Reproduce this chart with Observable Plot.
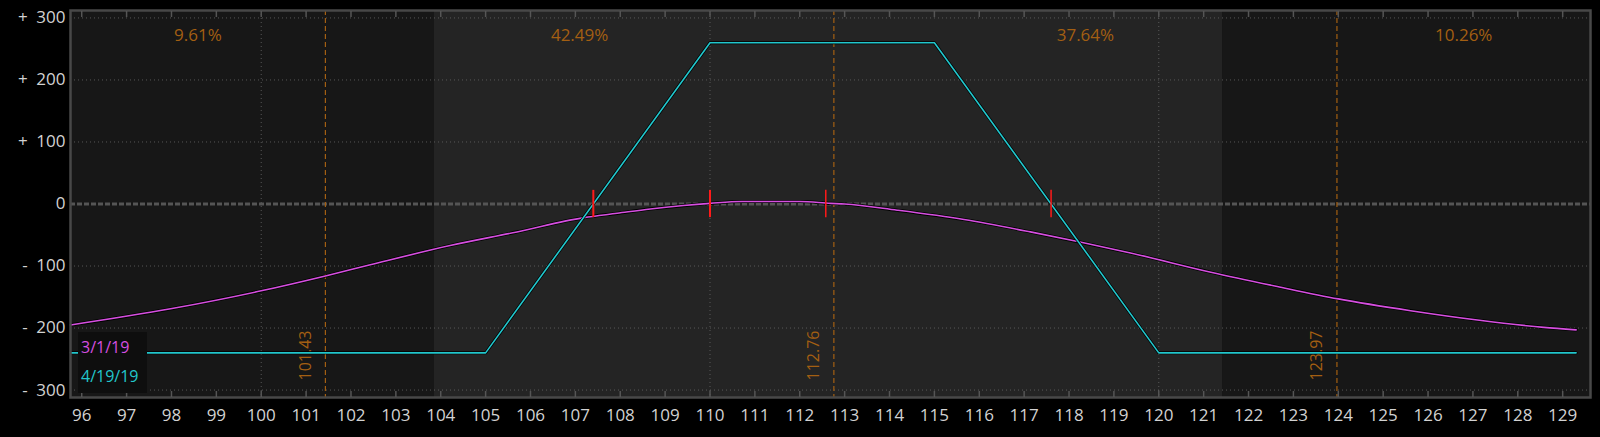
<!DOCTYPE html>
<html>
<head>
<meta charset="utf-8">
<script src="https://cdn.jsdelivr.net/npm/d3@7"></script>
<script src="https://cdn.jsdelivr.net/npm/@observablehq/plot@0.6"></script>
<style>
  html, body { margin: 0; padding: 0; background: #000; }
  #wrap { position: relative; width: 1600px; height: 437px; }
  #legend { position: absolute; left: 78px; top: 332px; width: 69px; height: 61px; background: #0e0e0e;
    font-family: "Open Sans", sans-serif; font-size: 16px; line-height: 29px; padding-left: 3px; box-sizing: border-box; padding-top: 1px; }
</style>
</head>
<body>
<div id="wrap"><div id="legend"></div></div>
<script>
// ---- data ----
const seriesNames = ["3/1/19", "4/19/19"];
const seriesColors = ["#d64fe0", "#22c6cc"];

// 3/1/19 theoretical P&L (price, value)
const nowPrice = [95.75, 97.98, 100.0, 101.43, 102.43, 104.21, 105.70, 107.19, 107.93, 108.67, 109.41, 110.0, 110.7, 112.0, 112.69, 113.0, 114.17, 115.66, 117.14, 118.22, 119.37, 121.16, 122.64, 124.0, 125.61, 127.10, 128.58, 129.30];
const nowPnl   = [-195, -169, -140, -116, -98, -67, -45, -22, -15, -8, -2.5, 1, 4, 4, 1, 0, -10, -25, -45, -61, -79, -110, -133, -153, -172, -187, -199, -203];

// 4/19/19 expiration P&L
const expPrice = [95.75, 105, 110, 115, 120, 129.30];
const expPnl   = [-240, -240, 260, 260, -240, -240];

// expected-move / probability lines and region percentages
const probLines = [101.43, 112.76, 123.97];
const probPercents = ["9.61%", "42.49%", "37.64%", "10.26%"];

// shaded one-sigma band
const bandEdges = [103.86, 121.42];

// red markers (break-evens, strikes of interest)
const markerPrices = [107.4, 110.0, 112.58, 117.6];
const markerHalf = 22;

const xDomain = [95.75, 129.62];
const yDomain = [-312, 312];
const xTicks = d3.range(96, 130);
const yTicks = [-300, -200, -100, 0, 100, 200, 300];

// ---- build ----
const nowData = nowPrice.map((p, i) => ({p, v: nowPnl[i]}));
const expData = expPrice.map((p, i) => ({p, v: expPnl[i]}));
const edges = [xDomain[0], ...probLines, xDomain[1]];
const pctData = probPercents.map((t, i) => ({t, x: (edges[i] + edges[i + 1]) / 2}));
const orange = "#a35f12";

const chart = Plot.plot({
  width: 1600,
  height: 437,
  marginLeft: 70,
  marginRight: 10,
  marginTop: 10,
  marginBottom: 40,
  style: {background: "#000", color: "#d2d2d2", fontFamily: "Open Sans, sans-serif", fontSize: "17px"},
  x: {domain: xDomain, label: null},
  y: {domain: yDomain, label: null},
  marks: [
    Plot.frame({fill: "#171717"}),
    Plot.rect([bandEdges], {x1: d => d[0], x2: d => d[1], fill: "#242424"}),
    Plot.gridY(yTicks.filter(d => d !== 0), {stroke: "#666", strokeOpacity: 0.8, strokeDasharray: "1,3"}),
    Plot.gridX([100, 110, 120], {stroke: "#666", strokeOpacity: 0.8, strokeDasharray: "1,3"}),
    Plot.ruleY([0], {stroke: "#555", strokeWidth: 3, strokeDasharray: "5,2"}),
    Plot.ruleX(probLines, {stroke: orange, strokeWidth: 1.2, strokeDasharray: "5,3"}),
    Plot.text(probLines, {x: d => d, text: d => d.toFixed(2), frameAnchor: "bottom", rotate: -90, textAnchor: "start", lineAnchor: "middle", dy: -17, dx: -20, fill: orange, fontSize: 16}),
    Plot.text(pctData, {x: "x", text: "t", frameAnchor: "top", dy: 25, lineAnchor: "middle", fill: orange, fontSize: 17}),
    Plot.line(nowData, {x: "p", y: "v", stroke: "#000", strokeWidth: 3.2, curve: "monotone-x"}),
    Plot.line(nowData, {x: "p", y: "v", stroke: seriesColors[0], strokeWidth: 1.6, curve: "monotone-x"}),
    Plot.line(expData, {x: "p", y: "v", stroke: "#000", strokeWidth: 3}),
    Plot.line(expData, {x: "p", y: "v", stroke: seriesColors[1], strokeWidth: 1.6}),
    Plot.ruleX(markerPrices, {y1: -markerHalf, y2: markerHalf, stroke: "#ff1a1a", strokeWidth: (d, i) => i < 2 ? 2 : 1.5}),
    Plot.frame({stroke: "#484848", strokeWidth: 2.5}),
    Plot.axisX(xTicks, {anchor: "top", tickSize: -6, tickFormat: () => "", stroke: "#555", strokeWidth: 1.5}),
    Plot.axisX(xTicks, {anchor: "bottom", tickSize: -6, tickFormat: () => "", stroke: "#555", strokeWidth: 1.5}),
    Plot.axisX(xTicks, {anchor: "bottom", tickSize: 0, tickPadding: 11, fill: "#d2d2d2", fontSize: 17, label: null}),
    Plot.axisY(yTicks, {anchor: "left", tickSize: 0, tickPadding: 5, fill: "#d2d2d2", fontSize: 17, label: null,
      tickFormat: d => d > 0 ? "+\u2002" + d : d < 0 ? "-\u2002" + (-d) : "0"})
  ]
});
document.getElementById("wrap").prepend(chart);
const leg = document.getElementById("legend");
seriesNames.forEach((n, i) => {
  const s = document.createElement("div");
  s.textContent = n;
  s.style.color = seriesColors[i];
  leg.appendChild(s);
});
</script>
</body>
</html>
